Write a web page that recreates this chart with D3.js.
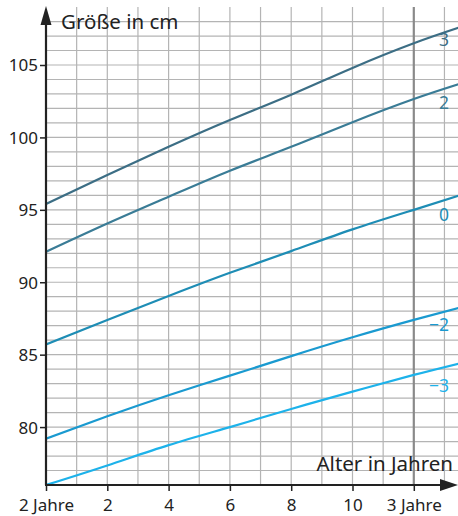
<!DOCTYPE html>
<html><head><meta charset="utf-8">
<script src="https://cdn.jsdelivr.net/npm/d3@7"></script>
<style>
body{margin:0;background:#fff;}
text{font-family:"Noto Sans",sans-serif;fill:#222;}
</style></head>
<body><svg id="c" width="458" height="516"></svg>
<script>
// months after 2nd birthday
const months = [0, 2, 4, 6, 8, 10, 12, 13.5];
const seriesNames = ["3", "2", "0", "−2", "−3"];
const s3  = [95.4, 97.4, 99.35, 101.2, 102.95, 104.8, 106.5, 107.6];
const s2  = [92.1, 94.05, 95.9, 97.7, 99.35, 101.05, 102.65, 103.7];
const s0  = [85.7, 87.4, 89.05, 90.65, 92.15, 93.65, 95.0, 96.0];
const sm2 = [79.2, 80.75, 82.2, 83.55, 84.9, 86.2, 87.4, 88.25];
const sm3 = [76.0, 77.35, 78.75, 80.0, 81.25, 82.45, 83.6, 84.4];
const seriesValues = [s3, s2, s0, sm2, sm3];
const colors = ["#3c6e85", "#3a7c96", "#1e8db5", "#1a9ad0", "#1db2ea"];
const labelValues = [106.73, 102.38, 94.64, 87.05, 82.84];
const xTickVals = [0, 2, 4, 6, 8, 10, 12];
const xTickLabels = ["2 Jahre", "2", "4", "6", "8", "10", "3 Jahre"];
const yTickVals = [80, 85, 90, 95, 100, 105];

const svg = d3.select("#c");
const x = d3.scaleLinear().domain([0, 12]).range([46, 413.8]);
const y = d3.scaleLinear().domain([76, 105]).range([485, 65]);
const xMaxPx = 458, yTopVal = 109;

// grid
const g = svg.append("g");
d3.range(77, 109).forEach(v => {
  g.append("line").attr("x1", 46).attr("x2", xMaxPx).attr("y1", y(v)).attr("y2", y(v))
    .attr("stroke", "#b4b4b4").attr("stroke-width", 1.2);
});
d3.range(1, 14).forEach(m => {
  g.append("line").attr("x1", x(m)).attr("x2", x(m)).attr("y1", y(yTopVal)).attr("y2", y(76))
    .attr("stroke", m === 12 ? "#8a8a8a" : "#b4b4b4").attr("stroke-width", m === 12 ? 2.2 : 1.2);
});

// curves
svg.append("defs").append("clipPath").attr("id", "clip")
  .append("rect").attr("x", 46).attr("y", 0).attr("width", xMaxPx - 46).attr("height", 486);
const line = d3.line().x(d => x(d[0])).y(d => y(d[1])).curve(d3.curveNatural);
seriesValues.forEach((vals, i) => {
  svg.append("path").attr("clip-path", "url(#clip)")
    .attr("d", line(months.map((m, j) => [m, vals[j]])))
    .attr("fill", "none").attr("stroke", colors[i]).attr("stroke-width", 2.2);
});

// labels at right
seriesNames.forEach((n, i) => {
  svg.append("text").attr("x", 449).attr("y", y(labelValues[i])).attr("dy", "0.36em")
    .attr("text-anchor", "end").attr("font-size", 17.5)
    .style("fill", colors[i]).text(n);
});

// axes
const yAxis = d3.axisLeft(y).tickValues(yTickVals).tickSize(6).tickFormat(d3.format("d"));
const ya = svg.append("g").attr("transform", "translate(46,0)").call(yAxis);
ya.select(".domain").remove();
ya.selectAll(".tick line").attr("stroke", "#222").attr("stroke-width", 1.5);
ya.selectAll(".tick text").attr("font-size", 17).attr("x", -8).attr("dy", "0.35em")
  .style("font-family", "Noto Sans").style("fill", "#222");

const xAxis = d3.axisBottom(x).tickValues(xTickVals).tickSize(6).tickFormat((d, i) => xTickLabels[i]);
const xa = svg.append("g").attr("transform", "translate(0,485)").call(xAxis);
xa.select(".domain").remove();
xa.selectAll(".tick line").attr("stroke", "#222").attr("stroke-width", 1.5);
xa.selectAll(".tick text").attr("font-size", 17).attr("y", 14)
  .style("font-family", "Noto Sans").style("fill", "#222");

// axis lines with arrows
svg.append("line").attr("x1", 46).attr("x2", 46).attr("y1", 485).attr("y2", 20)
  .attr("stroke", "#222").attr("stroke-width", 2.2);
svg.append("path").attr("d", "M46,6 L40.5,25 L51.5,25 Z").attr("fill", "#222");
svg.append("line").attr("x1", 45).attr("x2", 445).attr("y1", 485).attr("y2", 485)
  .attr("stroke", "#222").attr("stroke-width", 2.2);
svg.append("path").attr("d", "M458,485 L440,479 L440,491 Z").attr("fill", "#222");

// titles
svg.append("text").attr("x", 61).attr("y", 29).attr("font-size", 20.5).text("Größe in cm");
svg.append("text").attr("x", 453).attr("y", 471).attr("text-anchor", "end")
  .attr("font-size", 20.5).text("Alter in Jahren");
</script></body></html>
